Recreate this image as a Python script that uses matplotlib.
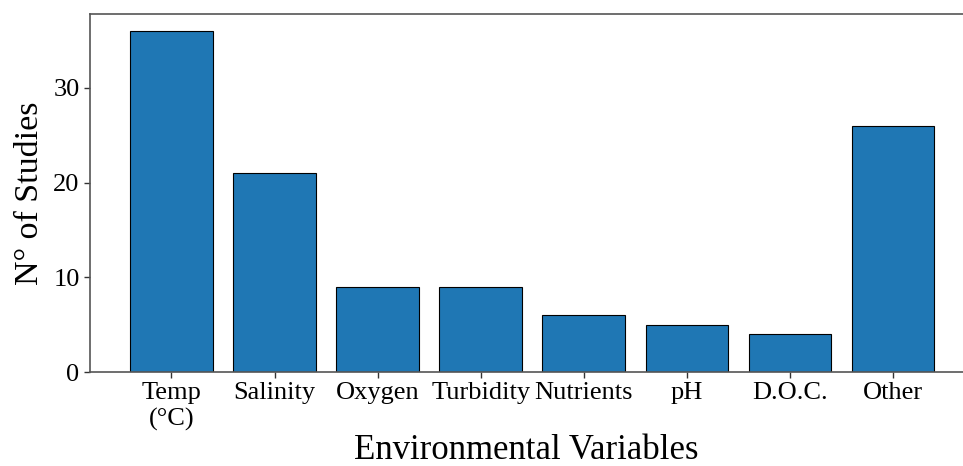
import matplotlib
matplotlib.use("Agg")
import matplotlib.pyplot as plt

categories = ["Temp\n(°C)", "Salinity", "Oxygen", "Turbidity", "Nutrients", "pH", "D.O.C.", "Other"]
studies = [36, 21, 9, 9, 6, 5, 4, 26]

plt.rcParams["font.family"] = ["Liberation Serif", "DejaVu Serif"]

fig = plt.figure(figsize=(9.63, 4.66), dpi=100)
ax = fig.add_axes([0.0935, 0.2017, 0.9065, 0.7683])

x = range(len(categories))
ax.bar(x, studies, width=0.8, color="#1f77b4", edgecolor="black", linewidth=0.8)

ax.set_xticks(list(x))
ax.set_xticklabels(categories, fontsize=19)
ax.set_yticks([0, 10, 20, 30])
ax.tick_params(axis="y", labelsize=19)
ax.tick_params(direction="out", length=4, width=1, color="#333333")
ax.set_xlim(-0.79, 7.68)
ax.set_ylim(0, 37.8)

for side in ("left", "top", "bottom"):
    ax.spines[side].set_color("#555555")
    ax.spines[side].set_linewidth(1.2)
ax.spines["right"].set_visible(False)

ax.set_xlabel("Environmental Variables", fontsize=25, labelpad=2)
ax.set_ylabel("N° of Studies", fontsize=24.5, labelpad=6)

fig.savefig("out.png", dpi=100)
